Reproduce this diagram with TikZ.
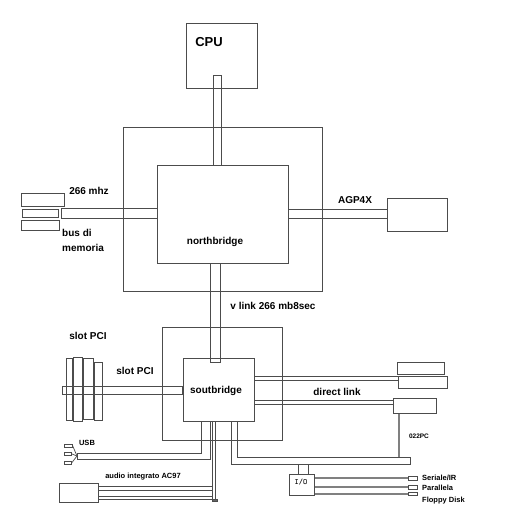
\documentclass[tikz,border=0pt]{standalone}
\usepackage{fontspec}
\setmainfont{Liberation Sans}
\usetikzlibrary{positioning,calc}

\begin{document}
\begin{tikzpicture}[
    x=1pt, y=-1pt,
    font=\bfseries\fontsize{10}{11}\selectfont,
    box/.style={rectangle, draw=black!70, line width=0.7pt, inner sep=0pt, anchor=north west},
    bus/.style={draw=black!70, line width=0.7pt},
    wire/.style={draw=black!50, line width=1.8pt},
    lbl/.style={inner sep=0pt, text=black},
    small/.style={lbl, font=\bfseries\fontsize{7.5}{8}\selectfont}
]
\useasboundingbox (0,0) rectangle (527,509);

    % frames and chips
    \node (nframe) [box, minimum width=199pt, minimum height=164pt] at (123,127) {};
    \node (sframe) [box, minimum width=120pt, minimum height=113pt] at (162,327) {};
    \node (cpu) [box, minimum width=71pt, minimum height=65pt] at (186,23) {};
    \node (nb) [box, minimum width=131pt, minimum height=98pt] at (157,165) {};
    \node (sb) [box, minimum width=71pt, minimum height=63pt] at (183,358) {};

    % memory, agp and devices
    \node (mem1) [box, minimum width=43pt, minimum height=13pt] at (21,193) {};
    \node (mem2) [box, minimum width=36pt, minimum height=8pt] at (22,209) {};
    \node (mem3) [box, minimum width=38pt, minimum height=10pt] at (21,220) {};
    \node (agp) [box, minimum width=60pt, minimum height=33pt] at (387,198) {};
    \node (dev1) [box, minimum width=47pt, minimum height=12pt] at (397,362) {};
    \node (dev2) [box, minimum width=49pt, minimum height=12pt] at (398,376) {};
    \node (dlink) [box, minimum width=43pt, minimum height=15pt] at (393,398) {};
    \node (audio) [box, minimum width=39pt, minimum height=19pt] at (59,483) {};
    \node (io) [box, minimum width=25pt, minimum height=21pt] at (289,474) {};
    \node (port1) [box, minimum width=9pt, minimum height=4pt] at (408,476) {};
    \node (port2) [box, minimum width=9pt, minimum height=4pt] at (408,485) {};
    \node (port3) [box, minimum width=9pt, minimum height=3pt] at (408,492) {};

    % slots PCI
    \node (slot1) [box, minimum width=6pt, minimum height=62pt] at (66,358) {};
    \node (slot2) [box, minimum width=9pt, minimum height=64pt] at (73,357) {};
    \node (slot3) [box, minimum width=10pt, minimum height=61pt] at (83,358) {};
    \node (slot4) [box, minimum width=8pt, minimum height=58pt] at (94,362) {};

    % usb plug
    \node (usb1) [box, minimum width=8pt, minimum height=3pt] at (64,444) {};
    \node (usb2) [box, minimum width=7pt, minimum height=3pt] at (64,452) {};
    \node (usb3) [box, minimum width=7pt, minimum height=3pt] at (64,461) {};
    \coordinate (usbend) at (77,456);

    % buses
    \draw [bus] (213,75) rectangle (221,0 |- nb.north);
    \draw [bus] (61,208) rectangle (nb.west |- 0,218);
    \draw [bus] (nb.east |- 0,209) rectangle (agp.west |- 0,218);
    \draw [bus] (210,0 |- nb.south) rectangle (220,362);
    \draw [bus] (62,386) rectangle (182,394);
    \draw [bus] (sb.east |- 0,376) rectangle (dev2.west |- 0,380);
    \draw [bus] (sb.east |- 0,400) rectangle (dlink.west |- 0,404);
    \draw [bus] (231,421) -- (231,464) -- (410,464) -- (410,457) -- (237,457) -- (237,421);
    \draw [bus] (298,464) rectangle (308,0 |- io.north);
    \draw [bus] (201,421) -- (201,453) -- (77,453) -- (77,459) -- (210,459) -- (210,421);
    \draw [bus] (audio.east |- 0,486) rectangle (212,490);
    \draw [bus] (audio.east |- 0,496) rectangle (212,499);
    \draw [bus] (212,421) rectangle (215,499);
    \draw [bus, fill=black!60] (212,499) rectangle (217,501);

    % wires
    \draw [wire] (399,0 |- dlink.south) -- (399,457);
    \draw [wire] (io.east |- port1.west) -- (port1.west);
    \draw [wire] (io.east |- port2.west) -- (port2.west);
    \draw [wire] (io.east |- port3.west) -- (port3.west);
    \draw [bus] (usb1.east) -- (usbend);
    \draw [bus] (usb2.east) -- (usbend);
    \draw [bus] (usb3.east) -- (usbend);

    % labels
    \node (cpulbl) [lbl, font=\bfseries\fontsize{13}{14}\selectfont] at (209,42) {CPU};
    \node (nblbl) [lbl] at (215,242) {northbridge};
    \node (sblbl) [lbl] at (216,391) {soutbridge};
    \node (mhzlbl) [lbl] at (89,191) {266 mhz};
    \node (buslbl) [lbl, anchor=west] at (62,233) {bus di};
    \node (memlbl) [lbl, anchor=west] at (62,248) {memoria};
    \node (agplbl) [lbl] at (355,200) {AGP4X};
    \node (vlinklbl) [lbl] at (273,306) {v link 266 mb8sec};
    \node (pcilbl1) [lbl] at (88,336) {slot PCI};
    \node (pcilbl2) [lbl] at (135,371) {slot PCI};
    \node (dlinklbl) [lbl] at (337,392) {direct link};
    \node (pclbl) [lbl, font=\bfseries\fontsize{6.5}{7}\selectfont] at (419,436) {022PC};
    \node (usblbl) [small] at (87,443) {USB};
    \node (audiolbl) [small] at (143,477) {audio integrato AC97};
    \node (iolbl) [small, font=\ttfamily\bfseries\fontsize{8}{9}\selectfont] at (301,482) {I/O};
    \node (serlbl) [small, anchor=west] at (422,478) {Seriale/IR};
    \node (parlbl) [small, anchor=west] at (422,488) {Parallela};
    \node (floplbl) [small, anchor=west] at (422,501) {Floppy Disk};
\end{tikzpicture}
\end{document}
